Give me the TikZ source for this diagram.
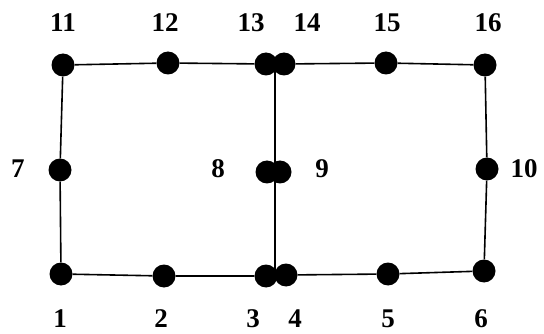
\documentclass[tikz,border=0pt]{standalone}
\usepackage{fontspec}
\setmainfont{Liberation Serif}
\begin{document}
\begin{tikzpicture}[x=1pt,y=-1pt,
  dot/.style={circle,fill=black,inner sep=0pt,minimum size=23pt},
  lbl/.style={font=\fontsize{27}{27}\selectfont\bfseries,inner sep=0pt},
  edge/.style={line width=1.6pt}]
\useasboundingbox (0,0) rectangle (544,334);
% dots
\node[dot] (n11) at (63,65) {};
\node[dot] (n12) at (168,63) {};
\node[dot] (n13) at (266,64) {};
\node[dot] (n14) at (284,64) {};
\node[dot] (n15) at (386,63) {};
\node[dot] (n16) at (485,65) {};
\node[dot] (n7) at (60,170) {};
\node[dot] (n8) at (267,172) {};
\node[dot] (n9) at (280,172) {};
\node[dot] (n10) at (487,169) {};
\node[dot] (n1) at (61,274) {};
\node[dot] (n2) at (164,276) {};
\node[dot] (n3) at (266,276) {};
\node[dot] (n4) at (286,275) {};
\node[dot] (n5) at (388,274) {};
\node[dot] (n6) at (484,271) {};
\coordinate (mt) at (275,64);
\coordinate (mb) at (275,275);
% connectors
\draw[edge] (n11) -- (n12) -- (n13);
\draw[edge] (n14) -- (n15) -- (n16);
\draw[edge] (n16) -- (n10) -- (n6);
\draw[edge] (n6) -- (n5) -- (n4);
\draw[edge] (n3) -- (n2) -- (n1);
\draw[edge] (n1) -- (n7) -- (n11);
\draw[edge] (mt) -- (mb);
% labels
\node[lbl] (l11) at (63,23) {11};
\node[lbl] (l12) at (165,23) {12};
\node[lbl] (l13) at (251,23) {13};
\node[lbl] (l14) at (307,23) {14};
\node[lbl] (l15) at (387,23) {15};
\node[lbl] (l16) at (488,23) {16};
\node[lbl] (l7) at (18,169) {7};
\node[lbl] (l8) at (218,169) {8};
\node[lbl] (l9) at (322,169) {9};
\node[lbl] (l10) at (524,169) {10};
\node[lbl] (l1) at (60,319) {1};
\node[lbl] (l2) at (161,319) {2};
\node[lbl] (l3) at (253,319) {3};
\node[lbl] (l4) at (295,319) {4};
\node[lbl] (l5) at (388,319) {5};
\node[lbl] (l6) at (481,319) {6};
\end{tikzpicture}
\end{document}
